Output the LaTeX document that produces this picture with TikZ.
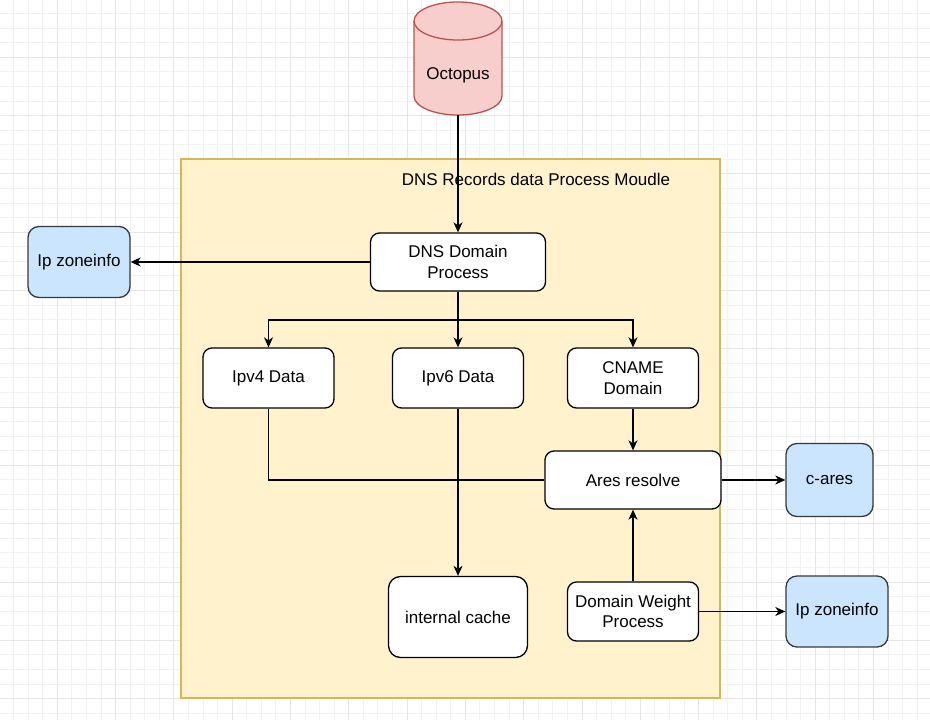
\documentclass[tikz,border=0pt]{standalone}
\usepackage{fontspec}
\setmainfont{Liberation Sans}
\usetikzlibrary{arrows.meta,positioning}

\definecolor{gridminor}{HTML}{F2F2F2}
\definecolor{gridmajor}{HTML}{E6E6E6}
\definecolor{modfill}{HTML}{FFF2CC}
\definecolor{moddraw}{HTML}{D6B656}
\definecolor{dbfill}{HTML}{F8CECC}
\definecolor{dbdraw}{HTML}{B85450}
\definecolor{extfill}{HTML}{CCE5FF}
\definecolor{extdraw}{HTML}{36393D}

\begin{document}
\begin{tikzpicture}[x=1pt,y=-1pt,>={Stealth[length=10pt,width=9pt,inset=3pt]},
 font=\fontsize{17}{20.5}\selectfont,line width=1.3pt,
 box/.style={draw,rounded corners=9pt,fill=white,align=center,inner sep=2pt,minimum width=131pt,minimum height=60pt},
 ext/.style={box,fill=extfill,draw=extdraw,rounded corners=11pt,minimum width=102pt,minimum height=71pt}]
\useasboundingbox (0,0) rectangle (930,720);
% background grid
\foreach \i in {0,...,64} \draw[gridminor,line width=1pt] ({\i*14.575-1},0) -- ({\i*14.575-1},720);
\foreach \i in {0,...,50} \draw[gridminor,line width=1pt] (0,{\i*14.575-1}) -- (930,{\i*14.575-1});
\foreach \i in {1,...,16} \draw[gridmajor,line width=1pt] ({\i*58.3-1},0) -- ({\i*58.3-1},720);
\foreach \i in {1,...,12} \draw[gridmajor,line width=1pt] (0,{\i*58.3-1}) -- (930,{\i*58.3-1});

% module container
\draw[fill=modfill,draw=moddraw] (181,159) rectangle (720,698);
\node[inner sep=0pt] (modlbl) at (536,179) {DNS Records data Process Moudle};

% octopus store
\draw[fill=dbfill,draw=dbdraw] (414,96) arc[start angle=180,end angle=360,x radius=44pt,y radius=19pt]
 -- (502,21) arc[start angle=0,end angle=180,x radius=44pt,y radius=19pt] -- cycle;
\draw[dbdraw] (414,21) arc[start angle=180,end angle=360,x radius=44pt,y radius=19pt];
\node (oct) at (458,75) {Octopus};
\coordinate (octb) at (458,115);

\node[box,minimum width=175pt,minimum height=58pt] (dns) at (458,262) {DNS Domain\\Process};
\node[ext] (zone1) at (79,262) {Ip zoneinfo};
\node[box] (ipv4) at (268.5,378) {Ipv4 Data};
\node[box] (ipv6) at (458,378) {Ipv6 Data};
\node[box] (cname) at (633,378) {CNAME\\Domain};
\node[box,minimum width=176pt,minimum height=58pt] (ares) at (633,480) {Ares resolve};
\node[ext,minimum width=87pt,minimum height=73pt] (cares) at (829.5,480) {c-ares};
\node[box,minimum width=139pt,minimum height=81pt,rounded corners=12pt] (cache) at (458,617) {internal cache};
\node[box,minimum height=59pt] (weight) at (633,611.5) {Domain Weight\\Process};
\node[ext] (zone2) at (837,611.5) {Ip zoneinfo};
\coordinate (split) at (458,320);

\draw[->] (octb) -- (dns);
\draw[->] (dns) -- (zone1);
\draw[->] (dns) -- (ipv6);
\draw[->] (split) -| (ipv4);
\draw[->] (split) -| (cname);
\draw (ipv4) |- (ares);
\draw[->] (ipv6) -- (cache);
\draw[->] (cname) -- (ares);
\draw[->] (ares) -- (cares);
\draw[->] (weight) -- (ares);
\draw[->] (weight) -- (zone2);
\end{tikzpicture}
\end{document}
